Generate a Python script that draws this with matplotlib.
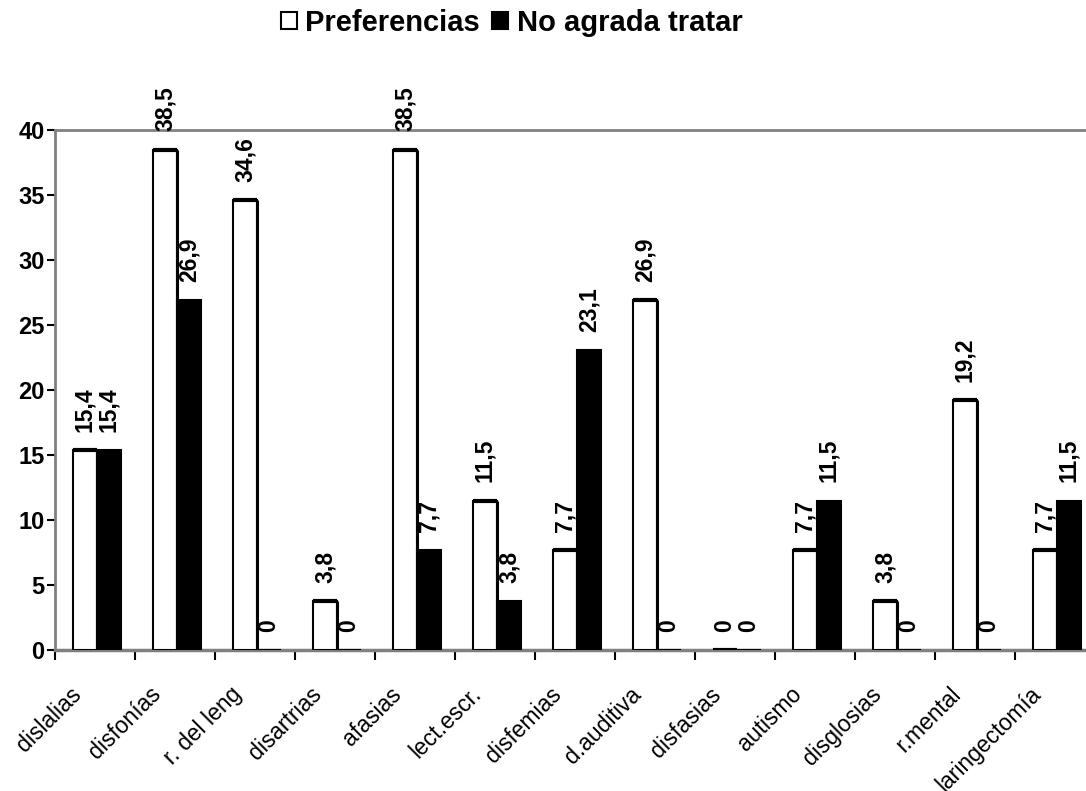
import matplotlib
matplotlib.use("Agg")
import matplotlib.pyplot as plt
import matplotlib.transforms as mtransforms
import numpy as np

categories = ["dislalias", "disfonías", "r. del leng", "disartrias", "afasias",
              "lect.escr.", "disfemias", "d.auditiva", "disfasias", "autismo",
              "disglosias", "r.mental", "laringectomía"]
preferencias = [15.4, 38.5, 34.6, 3.8, 38.5, 11.5, 7.7, 26.9, 0, 7.7, 3.8, 19.2, 7.7]
no_agrada = [15.4, 26.9, 0, 0, 7.7, 3.8, 23.1, 0, 0, 11.5, 0, 0, 11.5]
series_names = ["Preferencias", "No agrada tratar"]
yticks = [0, 5, 10, 15, 20, 25, 30, 35, 40]

plt.rcParams['font.family'] = ['Liberation Sans', 'DejaVu Sans']

def fmt(v):
    if v == 0:
        return "0"
    return ("%.1f" % v).replace(".", ",")

fig = plt.figure(figsize=(10.86, 7.91), dpi=100)
ax = fig.add_axes([55 / 1086, 1 - 650 / 791, 1040 / 1086, 520 / 791])

x = np.arange(len(categories)) + 0.5
w = 0.3
x1 = x - 0.125
x2 = x + 0.175

b1 = ax.bar(x1, preferencias, w, color="white", edgecolor="black", linewidth=1.5,
            label=series_names[0], zorder=3)
b2 = ax.bar(x2, no_agrada, w, color="black", edgecolor="black", linewidth=1.5,
            label=series_names[1], zorder=3)

# excel-like thick top / right edge on the bars
ax.hlines(preferencias, x1 - w / 2, x1 + w / 2, color="black", lw=3, zorder=4)
ax.vlines(x1 + w / 2, 0, preferencias, color="black", lw=2.2, zorder=4)

for xs, vals in ((x1, preferencias), (x2, no_agrada)):
    for xi, v in zip(xs, vals):
        ax.annotate(fmt(v), (xi, v), xytext=(0, 13), textcoords="offset points",
                    rotation=90, ha="center", va="bottom", fontsize=16.5,
                    fontweight="bold", annotation_clip=False)

ax.set_xlim(0, len(categories))
ax.set_ylim(0, 40)
ax.set_yticks(yticks)
ax.set_yticklabels([str(t) for t in yticks], fontweight="bold", fontsize=17)
ax.tick_params(axis="y", direction="out", length=6, width=1.5, pad=1.5, color="black")

# labels at group centres, tick marks at group boundaries
ax.set_xticks(x)
ax.set_xticklabels(categories, rotation=45, ha="right", fontsize=16.5)
ax.tick_params(axis="x", which="major", length=0, pad=20)
ax.set_xticks(np.arange(0, len(categories) + 1), minor=True)
ax.tick_params(axis="x", which="minor", direction="out", length=7, width=1.5, color="black")
shift = mtransforms.ScaledTranslation(-0.09, -0.05, fig.dpi_scale_trans)
for lab in ax.get_xticklabels():
    lab.set_transform(lab.get_transform() + shift)

for side in ("left", "top", "bottom", "right"):
    ax.spines[side].set_color("#808080")
    ax.spines[side].set_linewidth(2)
ax.spines["bottom"].set_linewidth(2.5)

fig.legend(handles=[b1, b2], labels=series_names, loc="center",
           bbox_to_anchor=(0.471, 0.971), ncol=2, frameon=False,
           prop={"weight": "bold", "size": 21}, handlelength=0.55, handleheight=0.55,
           handletextpad=0.3, columnspacing=0.4)

fig.savefig("out.png", dpi=100)
